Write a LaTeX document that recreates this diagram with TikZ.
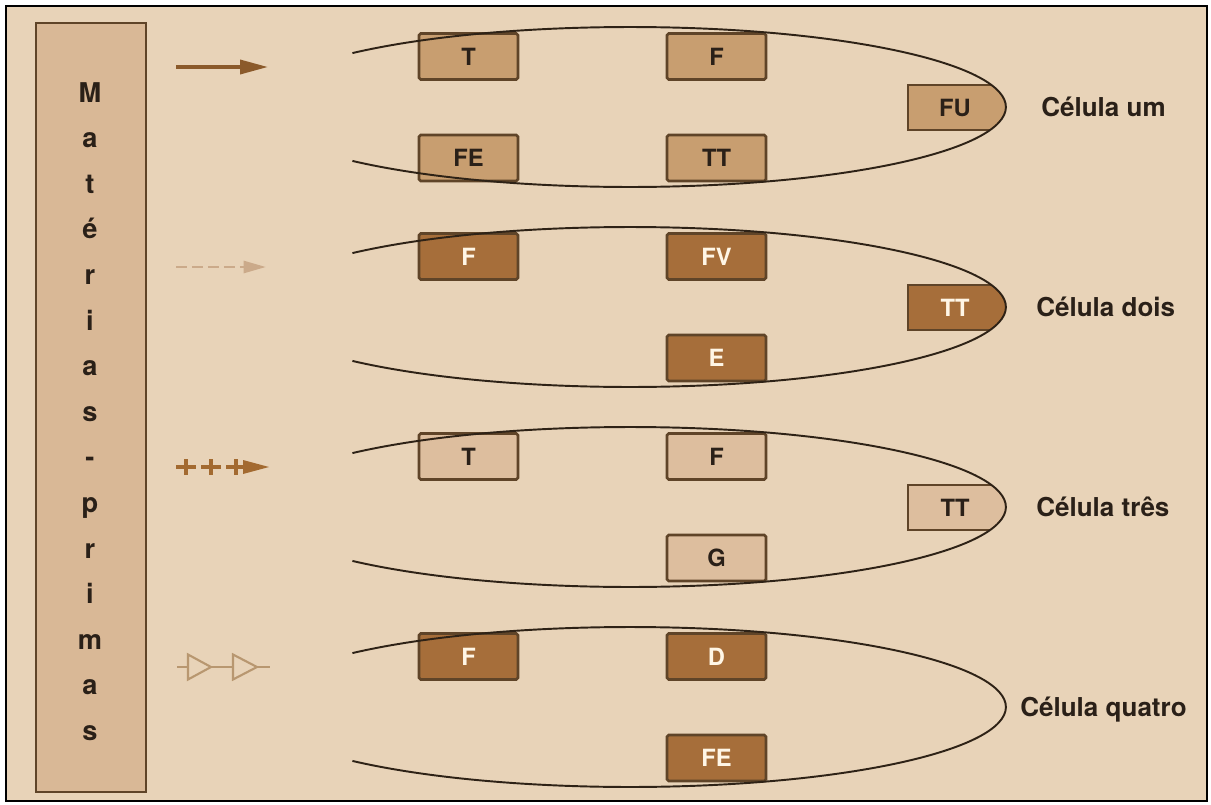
\documentclass[tikz,border=0pt]{standalone}
\usepackage{fontspec}
\setmainfont{TeX Gyre Heros}
\usetikzlibrary{arrows.meta}

\definecolor{bg}{HTML}{E8D3B8}
\definecolor{colfill}{HTML}{D9B896}
\definecolor{bord}{HTML}{5F4428}
\definecolor{fillA}{HTML}{C89E70}
\definecolor{fillB}{HTML}{A66E3A}
\definecolor{fillC}{HTML}{DDBE9E}
\definecolor{txtdark}{HTML}{2A2018}
\definecolor{txtlight}{HTML}{FFF6E6}
\definecolor{cellline}{HTML}{2E2216}
\definecolor{arrA}{HTML}{8B5A2B}
\definecolor{arrB}{HTML}{CBAA8A}
\definecolor{arrC}{HTML}{A36A30}
\definecolor{arrD}{HTML}{B89770}

\tikzset{
  box/.style={draw=bord, line width=1.5pt, rounded corners=1pt,
    minimum width=1.98cm, minimum height=0.92cm, inner sep=0pt,
    font=\fontsize{13.5}{14}\selectfont\bfseries,
    text height=9.7pt, text depth=0pt},
  boxA/.style={box, fill=fillA, text=txtdark},
  boxB/.style={box, fill=fillB, text=txtlight},
  boxC/.style={box, fill=fillC, text=txtdark},
  rlbl/.style={inner sep=0pt, font=\fontsize{13.5}{14}\selectfont\bfseries,
    text height=9.7pt, text depth=0pt},
  celltxt/.style={anchor=west, inner sep=0pt, text=txtdark,
    font=\fontsize{14.8}{15}\selectfont\bfseries,
    text height=10.6pt, text depth=0pt},
  letter/.style={anchor=base, inner sep=0pt, text=txtdark,
    font=\fontsize{15.5}{16}\selectfont\bfseries},
  outline/.style={draw=cellline, line width=1.1pt},
}

% half-open cell outline around centre #1
\newcommand\celloutline[1]{%
  \draw[outline] (#1) ++(137.6:7.52cm and 1.6cm)
    arc[start angle=137.6, end angle=-137.6, x radius=7.52cm, y radius=1.6cm];}
% last box of a cell, cut by the outline
\newcommand\cellcap[3]{%
  \begin{scope}
    \clip (#1) ellipse [x radius=7.52cm, y radius=1.6cm];
    \filldraw[fill=#2, draw=bord, line width=1.5pt]
      (908,#3-22.5) rectangle (1040,#3+22.5);
  \end{scope}}

\begin{document}
\begin{tikzpicture}[x=0.02cm, y=-0.02cm]
\useasboundingbox (0,0) rectangle (1211,805);
\fill[white] (0,0) rectangle (1211,805);
\draw[black, line width=1.2pt, fill=bg] (6,6) rectangle (1207,801);

% raw-material column
\node[draw=bord, line width=1.6pt, fill=colfill, minimum width=2.2cm,
      minimum height=15.38cm, inner sep=0pt] (col) at (91,407.5) {};
\foreach \ch [count=\i from 0] in {M,a,t,é,r,i,a,s,-,p,r,i,m,a,s}
  \node[letter] (l\i) at (90,102+45.6*\i) {\ch};

% legend of flow lines
\coordinate (r1s) at (176,67);  \coordinate (r1e) at (268,67);
\coordinate (r2s) at (176,267); \coordinate (r2e) at (266,267);
\coordinate (r3a) at (243,467); \coordinate (r3e) at (269,467);
\coordinate (r4s) at (177,667); \coordinate (r4e) at (270,667);
\draw[arrA, line width=2pt, -{Triangle[length=0.56cm, width=0.28cm]}] (r1s) -- (r1e);
\draw[arrB, line width=1.6pt, dash pattern=on 0.22cm off 0.1cm,
      -{Triangle[length=0.45cm, width=0.24cm]}] (r2s) -- (r2e);
\foreach \px in {186,211,236}
  \draw[arrC, line width=2pt] (\px-10,467) -- (\px+10,467) (\px,459) -- (\px,475);
\fill[arrC] (r3a) ++(0,-7) -- (r3e) -- (243,474) -- cycle;
\draw[arrD, line width=1.2pt] (r4s) -- (r4e);
\filldraw[fill=bg, draw=arrD, line width=1.2pt] (188,654.5) -- (211,667) -- (188,679.5) -- cycle;
\filldraw[fill=bg, draw=arrD, line width=1.2pt] (233,654.5) -- (257,667) -- (233,679.5) -- cycle;

% cell centres
\coordinate (c1) at (630,107);
\coordinate (c2) at (630,307);
\coordinate (c3) at (630,507);
\coordinate (c4) at (630,707);

% cell one
\node[boxA] (u1) at (468.5,56.5) {T};
\node[boxA] (u2) at (716.5,56.5) {F};
\node[boxA] (u3) at (468.5,158) {FE};
\node[boxA] (u4) at (716.5,158) {TT};
\cellcap{c1}{fillA}{107.5}
\node[rlbl, text=txtdark] (u5) at (955,107.5) {FU};

% cell two
\node[boxB] (d1) at (468.5,256.5) {F};
\node[boxB] (d2) at (716.5,256.5) {FV};
\node[boxB] (d3) at (716.5,358) {E};
\cellcap{c2}{fillB}{307.5}
\node[rlbl, text=txtlight] (d4) at (955,307.5) {TT};

% cell three
\node[boxC] (t1) at (468.5,456.5) {T};
\node[boxC] (t2) at (716.5,456.5) {F};
\node[boxC] (t3) at (716.5,558) {G};
\cellcap{c3}{fillC}{507.5}
\node[rlbl, text=txtdark] (t4) at (955,507.5) {TT};

% cell four
\node[boxB] (q1) at (468.5,656.5) {F};
\node[boxB] (q2) at (716.5,656.5) {D};
\node[boxB] (q3) at (716.5,758) {FE};

% outlines
\celloutline{c1}
\celloutline{c2}
\celloutline{c3}
\celloutline{c4}

% cell names
\node[celltxt] (n1) at (1041,107) {Célula um};
\node[celltxt] (n2) at (1036,307) {Célula dois};
\node[celltxt] (n3) at (1036,507) {Célula três};
\node[celltxt] (n4) at (1020,707) {Célula quatro};
\end{tikzpicture}
\end{document}
